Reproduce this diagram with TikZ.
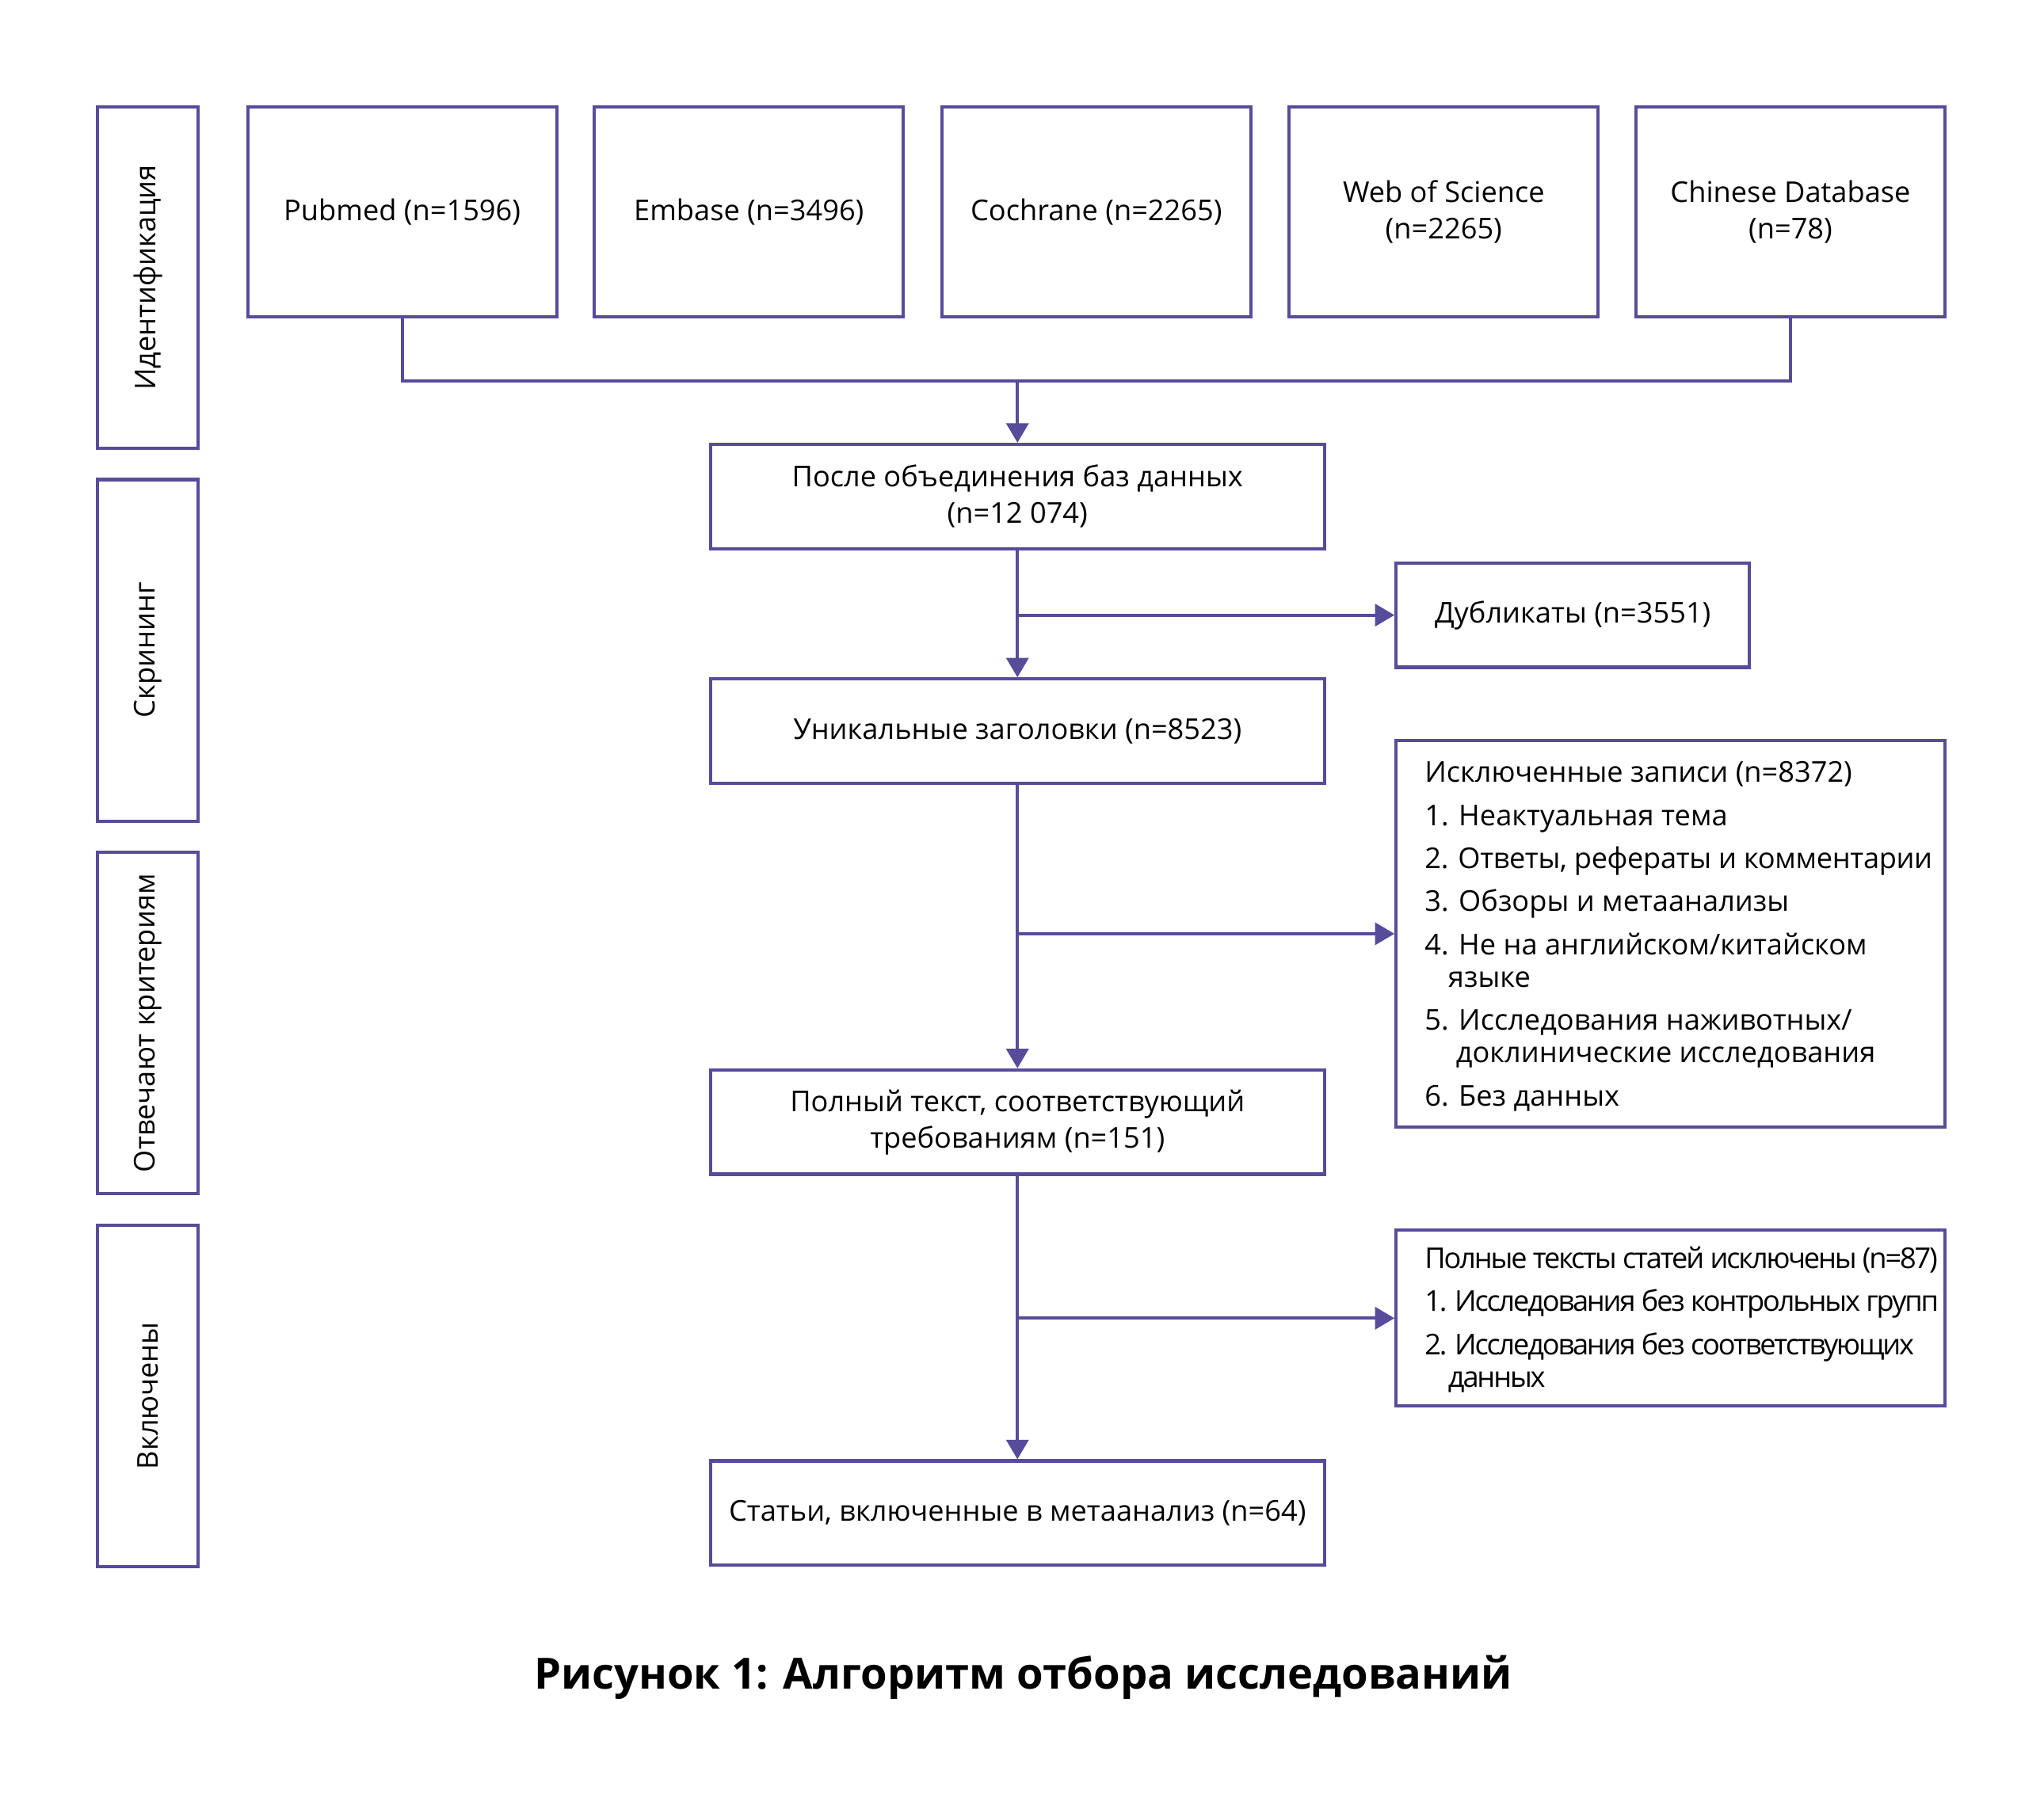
\documentclass[tikz,border=0pt]{standalone}
\usepackage{fontspec}
\setmainfont{Open Sans}
\usetikzlibrary{arrows.meta}
\definecolor{pline}{RGB}{87,76,154}
\begin{document}
\begin{tikzpicture}[x=1pt,y=-1pt,
  box/.style={draw=pline, line width=2.5pt, rectangle, inner sep=0pt, align=center,
    font=\fontsize{22}{28}\selectfont},
  topbox/.style={box, minimum width=237pt, minimum height=161pt},
  mainbox/.style={box, minimum width=471pt, minimum height=80pt},
  stagebox/.style={box, minimum width=262pt, minimum height=77pt, rotate=90},
  lst/.style={anchor=west, align=left, inner sep=0pt, font=\fontsize{22}{25}\selectfont},
  conn/.style={draw=pline, line width=2.5pt},
  arr/.style={conn, -{Triangle[width=17pt,length=15pt]}}]
\useasboundingbox (0,0) rectangle (1568,1388);
% stage boxes
\node[stagebox] (s1) at (113.5,213) {Идентификация};
\node[stagebox] (s2) at (113.5,499) {Скрининг};
\node[stagebox] (s3) at (113.5,785) {Отвечают критериям};
\node[stagebox] (s4) at (113.5,1071) {Включены};
% top boxes
\node[topbox] (pub) at (308.5,162.5) {Pubmed (n=1596)};
\node[topbox] (emb) at (574.5,162.5) {Embase (n=3496)};
\node[topbox] (coc) at (841,162.5) {Cochrane (n=2265)};
\node[topbox] (wos) at (1107.5,162.5) {Web of Science\\(n=2265)};
\node[topbox] (chn) at (1373.5,162.5) {Chinese Database\\(n=78)};
% main boxes
\node[mainbox] (merge) at (780.5,381) {После объединения баз данных\\(n=12 074)};
\node[mainbox] (uniq) at (780.5,561) {Уникальные заголовки (n=8523)};
\node[mainbox] (full) at (780.5,861) {Полный текст, соответствующий\\требованиям (n=151)};
\node[mainbox] (incl) at (780.5,1161) {Статьи, включенные в метаанализ (n=64)};
% side boxes
\node[box, minimum width=271pt, minimum height=80pt] (dup) at (1206.5,472) {Дубликаты (n=3551)};
\node[box, minimum width=421pt, minimum height=297pt] (ex1) at (1281.5,716.5) {};
\node[box, minimum width=421pt, minimum height=135pt] (ex2) at (1281.5,1011.5) {};
\node[lst] (ex1t) at ([xshift=23pt,yshift=-2pt]ex1.west) {Исключенные записи (n=8372)\\[8pt]
1. Неактуальная тема\\[8pt]
\addfontfeature{LetterSpace=-1}2. Ответы, рефераты и комментарии\\[8pt]
3. Обзоры и метаанализы\\[8pt]
4. Не на английском/китайском\\
\hspace*{18pt}языке\\[8pt]
5. Исследования наживотных/\\
\hspace*{24pt}доклинические исследования\\[8pt]
6. Без данных};
\node[lst] (ex2t) at ([xshift=23pt,yshift=-1pt]ex2.west) {\addfontfeature{LetterSpace=-6}Полные тексты статей исключены (n=87)\\[8pt]
\addfontfeature{LetterSpace=-6}1. Исследования без контрольных групп\\[8pt]
\addfontfeature{LetterSpace=-6}2. Исследования без соответствующих\\
\hspace*{18pt}\addfontfeature{LetterSpace=-6}данных};
% connectors
\path (pub.south) ++(0,48) coordinate (pj);
\draw[conn] (pub.south) -- (pj) -| (chn.south);
\draw[arr] (merge.north |- pj) -- (merge.north);
\draw[arr] (merge.south) -- (uniq.north);
\draw[arr] (merge.south |- dup.west) -- (dup.west);
\draw[arr] (uniq.south) -- (full.north);
\draw[arr] (uniq.south |- ex1.west) -- (ex1.west);
\draw[arr] (full.south) -- (incl.north);
\draw[arr] (full.south |- ex2.west) -- (ex2.west);
% title
\node[font=\fontsize{33}{40}\selectfont\bfseries] (title) at (785,1287) {Рисунок 1: Алгоритм отбора исследований};
\end{tikzpicture}
\end{document}
